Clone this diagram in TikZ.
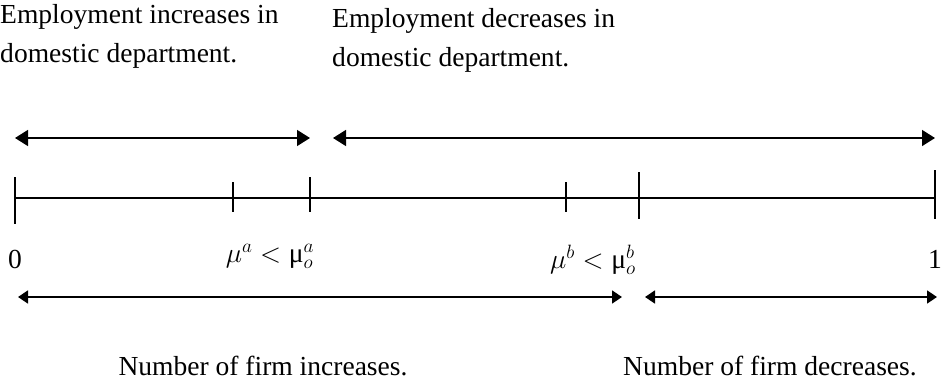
\documentclass[tikz,border=0pt]{standalone}
\usepackage{amsmath}
\usepackage{fix-cm}
\usepackage{fontspec}
\setmainfont{Liberation Serif}
\usetikzlibrary{arrows.meta,positioning}

\begin{document}
\begin{tikzpicture}[
  x=0.03cm, y=-0.03cm,
  txt/.style={font=\fontsize{23.5}{33}\selectfont, inner sep=0pt, align=left},
  lbl/.style={font=\fontsize{23.5}{33}\selectfont, inner sep=0pt, anchor=base},
  axis/.style={line width=1.2pt},
  tick/.style={line width=1.2pt},
  toparrow/.style={{Triangle[length=13*0.03cm, width=16*0.03cm]}-{Triangle[length=13*0.03cm, width=16*0.03cm]}, line width=1.3pt},
  botarrow/.style={{Triangle[length=10*0.03cm, width=13*0.03cm]}-{Triangle[length=10*0.03cm, width=13*0.03cm]}, line width=1.3pt}
]
  \useasboundingbox (0,0) rectangle (942,391);

  % Upper captions (employment)
  \node[txt, anchor=north west] (empinc) at (0,4) {Employment increases in\\domestic department.};
  \node[txt, anchor=north west] (empdec) at (332,8) {Employment decreases in\\domestic department.};

  % Upper ranges
  \coordinate (ua) at (15,138);
  \coordinate (ub) at (310,138);
  \coordinate (uc) at (333,138);
  \coordinate (ud) at (935,138);
  \draw[toparrow] (ua) -- (ub);
  \draw[toparrow] (uc) -- (ud);

  % The unit interval with its marks
  \coordinate (t0) at (15,198);
  \coordinate (ta) at (233,198);
  \coordinate (tao) at (310,198);
  \coordinate (tb) at (566,198);
  \coordinate (tbo) at (639,198);
  \coordinate (t1) at (935,198);
  \draw[axis] (t0) -- (t1);
  \draw[tick] ([yshift=21*0.03cm]t0) -- ([yshift=-26*0.03cm]t0);
  \draw[tick] ([yshift=16*0.03cm]ta) -- ([yshift=-14*0.03cm]ta);
  \draw[tick] ([yshift=21*0.03cm]tao) -- ([yshift=-14*0.03cm]tao);
  \draw[tick] ([yshift=16*0.03cm]tb) -- ([yshift=-14*0.03cm]tb);
  \draw[tick] ([yshift=26*0.03cm]tbo) -- ([yshift=-21*0.03cm]tbo);
  \draw[tick] ([yshift=28*0.03cm]t1) -- ([yshift=-21*0.03cm]t1);

  % Labels under the interval
  \node[lbl] (zero) at (15,268) {0};
  \node[lbl] (mua) at (270,262) {$\mu^{a} < \text{μ}_{o}^{a}$};
  \node[lbl] (mub) at (593,268) {$\mu^{b} < \text{μ}_{o}^{b}$};
  \node[lbl] (one) at (935,268) {1};

  % Lower ranges
  \coordinate (la) at (18,297);
  \coordinate (lb) at (622,297);
  \coordinate (lc) at (645,297);
  \coordinate (ld) at (937,297);
  \draw[botarrow] (la) -- (lb);
  \draw[botarrow] (lc) -- (ld);

  % Lower captions (firms)
  \node[lbl] (firminc) at (263,375) {Number of firm increases.};
  \node[lbl] (firmdec) at (770,375) {Number of firm decreases.};
\end{tikzpicture}
\end{document}
